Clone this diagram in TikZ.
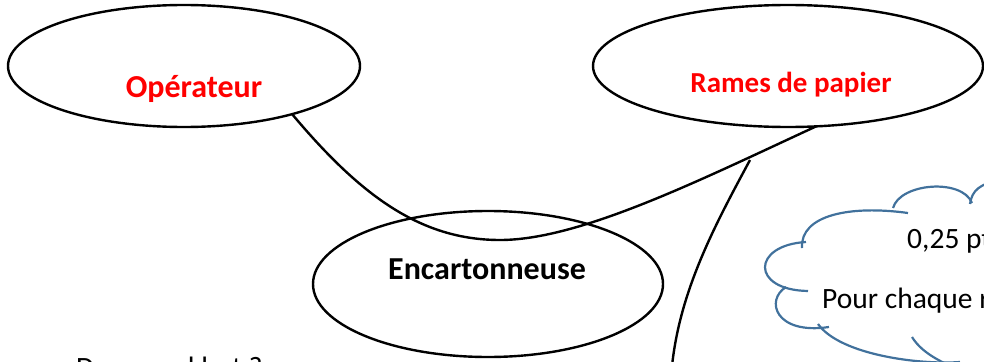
\documentclass[tikz,border=0pt]{standalone}
\usepackage{fontspec}
\setmainfont{Carlito}
\usetikzlibrary{shapes.geometric}
\definecolor{cloudblue}{RGB}{65,113,156}
\begin{document}
\begin{tikzpicture}[x=1pt,y=-1pt,
  oval/.style={ellipse, draw, line width=2.4pt, inner sep=0pt, outer sep=0pt},
  lbl/.style={anchor=base, inner sep=0pt, font=\bfseries\fontsize{32}{38}\selectfont},
  smalllbl/.style={anchor=base, inner sep=0pt, font=\bfseries\fontsize{29}{34}\selectfont},
  link/.style={draw, line width=2.4pt},
  cloudline/.style={draw=cloudblue, line width=2.2pt},
  cloudtxt/.style={anchor=base west, inner sep=0pt, font=\fontsize{29.5}{35}\selectfont}]
\useasboundingbox (0,0) rectangle (984,361);
\clip (0,0) rectangle (984,361);
% ellipses
\node[oval, minimum width=352pt, minimum height=122pt] (op) at (184,66) {};
\node[oval, minimum width=390pt, minimum height=122pt] (rames) at (788,66) {};
\node[oval, minimum width=350pt, minimum height=146pt] (enc) at (488,284) {};
\node[lbl, text=red] (optxt) at (194,97) {Opérateur};
\node[smalllbl, text=red] (ramestxt) at (791,92) {Rames de papier};
\node[lbl] (enctxt) at (487,279) {Encartonneuse};
% connectors
\draw[link] (op.-24) .. controls (360,195) and (420,240) .. (500,240)
   .. controls (580,240) and (700,180) .. (rames.-65);
\coordinate (j) at (750,160);
\coordinate (bot) at (672,366);
\draw[link] (j) .. controls (715,225) and (680,290) .. (bot);
% cloud
\draw[cloudline] (893,208) .. controls (900,183) and (962,178) .. (972,203);
\draw[cloudline] (970,204) .. controls (972,190) and (980,184) .. (1000,180);
\draw[cloudline] (908,213) .. controls (850,205) and (800,215) .. (802,248);
\draw[cloudline] (806,242) .. controls (752,245) and (750,290) .. (808,291);
\draw[cloudline] (786,287) .. controls (765,300) and (775,335) .. (829,327);
\draw[cloudline] (818,324) .. controls (840,355) and (920,365) .. (960,362);
\draw[cloudline] (912,337) .. controls (920,350) and (935,360) .. (960,370);
\node[cloudtxt] (c1) at (907,248) {0,25 pt};
\node[cloudtxt] (c2) at (822,308) {Pour chaque réponse};
% bottom text
\node[cloudtxt] (q) at (76,377) {Dans quel but ?};
\end{tikzpicture}
\end{document}
